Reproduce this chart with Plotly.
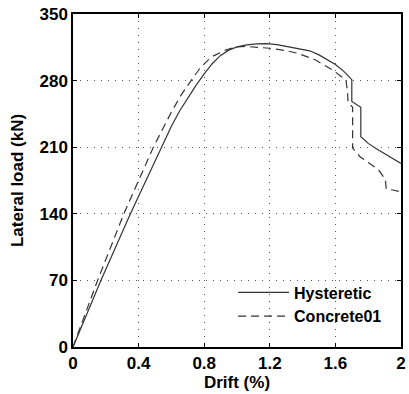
import plotly.graph_objects as go

hyst_drift = [0, 0.17, 0.35, 0.537, 0.6, 0.65, 0.7, 0.75, 0.8, 0.85, 0.9, 0.95, 1.0, 1.06, 1.12, 1.18, 1.244, 1.3, 1.4, 1.443, 1.5, 1.55, 1.6, 1.65, 1.70, 1.70, 1.755, 1.755, 1.8, 1.845, 1.9, 1.95, 2.0]
hyst_load = [0, 70, 140, 210, 232, 248, 262, 275, 287, 298, 306.5, 312, 315.5, 317.6, 318.6, 318.8, 317.8, 316, 313, 311.3, 307, 302, 297, 290, 281, 258, 252, 221, 214, 209, 203, 198, 193]

conc_drift = [0, 0.15, 0.31, 0.49, 0.6, 0.66, 0.72, 0.773, 0.82, 0.857, 0.93, 1.0, 1.05, 1.1, 1.2, 1.3, 1.373, 1.48, 1.588, 1.664, 1.674, 1.677, 1.705, 1.705, 1.75, 1.8, 1.864, 1.905, 1.91, 1.95, 2.0]
conc_load = [0, 70, 140, 210, 247, 265, 280, 292.7, 301, 306, 312, 315.5, 316, 315.5, 314, 311.5, 308.6, 301.6, 290.5, 280.6, 268, 257, 252, 209, 200, 194, 186, 176, 166, 165, 163]

x_ticks = [0, 0.4, 0.8, 1.2, 1.6, 2]
x_labels = ["0", "0.4", "0.8", "1.2", "1.6", "2"]
y_ticks = [0, 70, 140, 210, 280, 350]

font_fam = "Liberation Sans, Arial, sans-serif"

fig = go.Figure()
fig.add_trace(go.Scatter(x=hyst_drift, y=hyst_load, mode="lines", name="Hysteretic",
                         line=dict(color="#333333", width=1.2)))
fig.add_trace(go.Scatter(x=conc_drift, y=conc_load, mode="lines", name="Concrete01",
                         line=dict(color="#333333", width=1.2, dash="8px,5px")))

axis_common = dict(showline=True, linecolor="black", linewidth=1.5, mirror="ticks",
                   ticks="inside", ticklen=4, tickcolor="black",
                   showgrid=True, gridcolor="#555555", gridwidth=1, griddash="1px,6px",
                   zeroline=False,
                   tickfont=dict(family=font_fam, size=17, color="black", weight="bold"))

fig.update_xaxes(range=[0, 2], tickvals=x_ticks, ticktext=x_labels,
                 title=dict(text="Drift (%)", font=dict(family=font_fam, size=17, color="black", weight="bold"), standoff=2),
                 **axis_common)
fig.update_yaxes(range=[0, 350], tickvals=y_ticks,
                 title=dict(text="Lateral load (kN)", font=dict(family=font_fam, size=17, color="black", weight="bold"), standoff=12),
                 **axis_common)

fig.update_layout(
    width=409, height=394,
    margin=dict(l=73, r=3, t=14, b=47),
    plot_bgcolor="white", paper_bgcolor="white",
    legend=dict(x=0.488, y=0.215, xanchor="left", yanchor="top",
                bgcolor="rgba(0,0,0,0)", itemwidth=51,
                font=dict(family=font_fam, size=16, color="black", weight="bold"),
                tracegroupgap=0),
)

fig.write_html("out.html")
